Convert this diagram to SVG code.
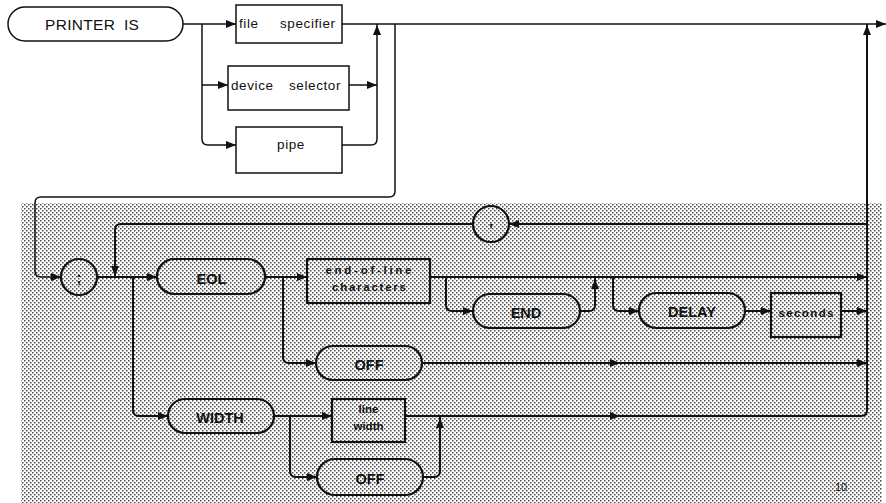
<svg xmlns="http://www.w3.org/2000/svg" xmlns:xlink="http://www.w3.org/1999/xlink" width="886" height="503" viewBox="0 0 886 503">
<style>
.ln{fill:none;stroke:#111;stroke-width:1.5}
.lnb{fill:none;stroke:#111;stroke-width:2}
.box{fill:#fff;stroke:#111;stroke-width:1.5}
.boxb{fill:none;stroke:#111;stroke-width:2.2}
.t{font-family:"Liberation Sans",Arial,sans-serif;font-size:13.5px;letter-spacing:0.6px;fill:#111}
.tb{font-family:"Liberation Sans",Arial,sans-serif;font-size:14.5px;font-weight:bold;fill:#111;text-anchor:middle}
.ts{font-family:"Liberation Sans",Arial,sans-serif;font-size:11.5px;font-weight:bold;fill:#111;text-anchor:middle}
.arr{fill:#111}
</style>
<defs>
<pattern id="dots" width="4" height="4" patternUnits="userSpaceOnUse">
<rect width="4" height="4" fill="#fff"/>
<rect x="0" y="0" width="1.5" height="1.5" fill="#4a4a4a"/>
<rect x="2" y="2" width="1.5" height="1.5" fill="#4a4a4a"/>
</pattern>
<path id="ar" d="M0,0 L-10,-4 L-10,4 Z"/>
</defs>
<rect width="886" height="503" fill="#fff"/>
<rect id="shade" x="21" y="203" width="861" height="300" fill="url(#dots)"/>

<g id="connectors">
<path class="ln" d="M183,24 H236"/>
<path class="ln" d="M202,24 V139 Q202,145 208,145 H236"/>
<path class="ln" d="M202,85 H228"/>
<path class="ln" d="M342,24 H886"/>
<path class="ln" d="M349,85 H377"/>
<path class="ln" d="M342,145 H371 Q377,145 377,139 V24"/>
<path class="ln" d="M395,24 V191 Q395,197 389,197 H41 Q35,197 35,203 V271 Q35,277 41,277 H61"/>
<path class="lnb" d="M97,277 H157"/>
<path class="lnb" d="M867,224 H509"/>
<path class="lnb" d="M473,224 H121 Q115,224 115,230 V277"/>
<path class="lnb" d="M133,277 V410 Q133,416 139,416 H168"/>
<path class="lnb" d="M265,277 H307"/>
<path class="lnb" d="M283,277 V357 Q283,363 289,363 H316"/>
<path class="lnb" d="M422,363 H867"/>
<path class="lnb" d="M430,277 H867"/>
<path class="lnb" d="M446,277 V305 Q446,311 452,311 H473"/>
<path class="lnb" d="M580,311 H589 Q595,311 595,305 V277"/>
<path class="lnb" d="M613,277 V305 Q613,311 619,311 H639"/>
<path class="lnb" d="M745,311 H771"/>
<path class="lnb" d="M841,311 H867"/>
<path class="lnb" d="M274,416 H332"/>
<path class="lnb" d="M290,416 V471 Q290,477 296,477 H317"/>
<path class="lnb" d="M423,477 H434 Q440,477 440,471 V416"/>
<path class="lnb" d="M405,416 H861 Q867,416 867,410 V24"/>
<g class="arr">
<use xlink:href="#ar" transform="translate(236,24)"/>
<use xlink:href="#ar" transform="translate(228,85)"/>
<use xlink:href="#ar" transform="translate(236,145)"/>
<use xlink:href="#ar" transform="translate(377,85)"/>
<use xlink:href="#ar" transform="translate(377,25) rotate(-90)"/>
<use xlink:href="#ar" transform="translate(886,24)"/>
<use xlink:href="#ar" transform="translate(61,277)"/>
<use xlink:href="#ar" transform="translate(157,277)"/>
<use xlink:href="#ar" transform="translate(509,224) rotate(180)"/>
<use xlink:href="#ar" transform="translate(115,276) rotate(90)"/>
<use xlink:href="#ar" transform="translate(168,416)"/>
<use xlink:href="#ar" transform="translate(307,277)"/>
<use xlink:href="#ar" transform="translate(316,363)"/>
<use xlink:href="#ar" transform="translate(620,363)"/>
<use xlink:href="#ar" transform="translate(867,363)"/>
<use xlink:href="#ar" transform="translate(867,277)"/>
<use xlink:href="#ar" transform="translate(473,311)"/>
<use xlink:href="#ar" transform="translate(595,279) rotate(-90)"/>
<use xlink:href="#ar" transform="translate(639,311)"/>
<use xlink:href="#ar" transform="translate(771,311)"/>
<use xlink:href="#ar" transform="translate(867,311)"/>
<use xlink:href="#ar" transform="translate(332,416)"/>
<use xlink:href="#ar" transform="translate(317,477)"/>
<use xlink:href="#ar" transform="translate(440,418) rotate(-90)"/>
<use xlink:href="#ar" transform="translate(620,416)"/>
<use xlink:href="#ar" transform="translate(867,25) rotate(-90)"/>
</g>
</g>

<g id="printer-is">
<rect class="box" x="8" y="7" width="175" height="34" rx="17"/>
<text class="t" y="30" style="font-size:15.5px;letter-spacing:0.3px"><tspan x="45">PRINTER </tspan><tspan x="124">IS</tspan></text>
</g>
<g id="file-specifier">
<rect class="box" x="236" y="5" width="106" height="38"/>
<text class="t" y="28"><tspan x="239">file </tspan><tspan x="280">specifier</tspan></text>
</g>
<g id="device-selector">
<rect class="box" x="228" y="66" width="121" height="44"/>
<text class="t" y="90"><tspan x="231">device </tspan><tspan x="289">selector</tspan></text>
</g>
<g id="pipe">
<rect class="box" x="236" y="127" width="106" height="46"/>
<text class="t" x="291" y="149" style="text-anchor:middle">pipe</text>
</g>

<g id="semicolon">
<circle class="boxb" cx="79" cy="277" r="18"/>
<text class="tb" x="79" y="283">;</text>
</g>
<g id="comma">
<circle class="boxb" cx="491" cy="224" r="18"/>
<text class="tb" x="491" y="226">,</text>
</g>
<g id="eol">
<rect class="boxb" x="157" y="259" width="108" height="35" rx="17.5"/>
<text class="tb" x="211.5" y="284">EOL</text>
</g>
<g id="eol-chars">
<rect class="boxb" x="307" y="259" width="123" height="44"/>
<text class="ts" x="368.5" y="274" textLength="86" lengthAdjust="spacing">end-of-line</text>
<text class="ts" x="369" y="291" textLength="74" lengthAdjust="spacing">characters</text>
</g>
<g id="end">
<rect class="boxb" x="473" y="294" width="107" height="34" rx="17"/>
<text class="tb" x="526" y="318">END</text>
</g>
<g id="delay">
<rect class="boxb" x="639" y="293" width="106" height="35" rx="17.5"/>
<text class="tb" x="692" y="317">DELAY</text>
</g>
<g id="seconds">
<rect class="boxb" x="771" y="293" width="70" height="44"/>
<text class="ts" x="806" y="317" textLength="55" lengthAdjust="spacing">seconds</text>
</g>
<g id="off-eol">
<rect class="boxb" x="316" y="346" width="106" height="34" rx="17"/>
<text class="tb" x="369" y="370">OFF</text>
</g>
<g id="width">
<rect class="boxb" x="168" y="399" width="106" height="34" rx="17"/>
<text class="tb" x="220" y="423">WIDTH</text>
</g>
<g id="line-width">
<rect class="boxb" x="332" y="399" width="73" height="43"/>
<text class="ts" x="368.5" y="413">line</text>
<text class="ts" x="368.5" y="430">width</text>
</g>
<g id="off-width">
<rect class="boxb" x="317" y="459" width="106" height="36" rx="18"/>
<text class="tb" x="370" y="484">OFF</text>
</g>
<text class="ts" x="841" y="491" style="font-weight:normal;font-size:11px">10</text>
</svg>
